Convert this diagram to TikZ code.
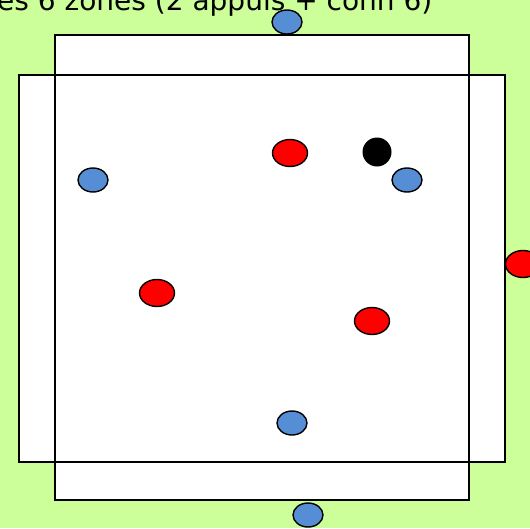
\documentclass[tikz,border=0pt]{standalone}
\usepackage{fontspec}
\setmainfont{DejaVu Sans}
\usetikzlibrary{shapes.geometric}
\definecolor{grass}{HTML}{CCFF99}
\definecolor{teamblue}{HTML}{558ED5}
\definecolor{teamred}{HTML}{FF0000}
\tikzset{
  zone/.style={draw=black,line width=1.3pt},
  bluedot/.style={ellipse,draw=black,fill=teamblue,line width=1.4pt,
                  minimum width=30pt,minimum height=24pt,inner sep=0pt},
  reddot/.style={ellipse,draw=black,fill=teamred,line width=1.4pt,
                 minimum width=35pt,minimum height=27pt,inner sep=0pt},
  balldot/.style={circle,fill=black,minimum size=29pt,inner sep=0pt}
}
\begin{document}
\begin{tikzpicture}[x=1pt,y=-1pt]
  \useasboundingbox (0,0) rectangle (530,528);
  \clip (0,0) rectangle (530,528);
  \fill[grass] (0,0) rectangle (530,528);
  % ---- the two overlapping zones ----
  \fill[white] (55,35) rectangle (469,500);
  \fill[white] (19,75) rectangle (505,462);
  \draw[zone] (55,35) rectangle (469,500);
  \draw[zone] (19,75) rectangle (505,462);
  % ---- title, cut by the top edge ----
  \node[font=\fontsize{28}{32}\selectfont,anchor=base west,inner sep=0pt] (title)
    at (-3,10) {es 6 zones (2 appuis + conn 6)};
  % ---- blue team ----
  \node[bluedot] (btop) at (287,22) {};
  \node[bluedot] (bleft) at (93,180) {};
  \node[bluedot] (bright) at (407,180) {};
  \node[bluedot] (bmid) at (292,423) {};
  \node[bluedot] (bbot) at (308,515) {};
  % ---- red team ----
  \node[reddot] (rtop) at (290,153) {};
  \node[reddot] (rleft) at (157,293) {};
  \node[reddot] (rright) at (372,321) {};
  \node[reddot] (rside) at (523,264) {};
  % ---- ball ----
  \node[balldot] (ball) at (377,152) {};
\end{tikzpicture}
\end{document}
